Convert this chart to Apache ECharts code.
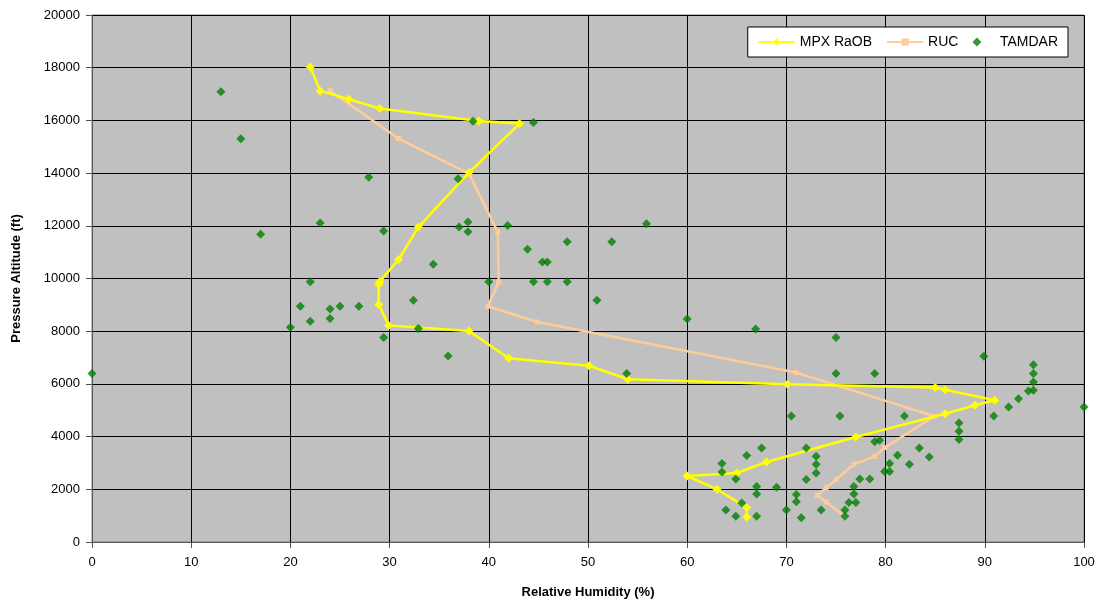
<!DOCTYPE html>
<html><head><meta charset="utf-8">
<script src="https://cdn.jsdelivr.net/npm/echarts@6/dist/echarts.min.js"></script>
<style>html,body{margin:0;padding:0;background:#fff}#c{width:1102px;height:605px}</style>
</head><body><div id="c"></div>
<script>
const xTitle = 'Relative Humidity (%)';
const yTitle = 'Pressure Altitude (ft)';
const seriesNames = ['MPX RaOB', 'RUC', 'TAMDAR'];

const raob = [[22,18030],[23,17120],[25.9,16800],[29,16450],[39,15980],[43.1,15880],[38,14020],[32.9,11950],[30.9,10720],[29,9880],[28.9,9780],[28.9,9010],[29.9,8220],[38,8010],[42,6970],[50.1,6690],[54,6175],[70.1,5985],[85,5860],[86,5780],[91,5380],[89,5190],[86,4870],[77,3985],[68,3036],[65,2620],[60,2505],[63,2000],[66,1305],[66,950]];

const ruc = [[24,17120],[30.9,15310],[38,13980],[40.9,11770],[41,9870],[39.9,8945],[44.9,8350],[71,6430],[84.9,4770],[79.9,3580],[78.9,3250],[76.8,2950],[75,2370],[74,2060],[73.1,1770],[74,1520],[75.8,1010]];

const tamdar = [[13,17090],[15,15300],[27.9,13840],[36.9,13790],[38.4,15970],[44.5,15920],
[37.9,12140],[37.9,11770],[37,11950],[41.9,12010],[55.9,12080],[47.9,11390],[52.4,11390],[43.9,11110],[45.4,10630],[45.9,10630],
[40,9880],[44.5,9880],[45.9,9880],[47.9,9880],
[50.9,9170],[60,8460],[66.9,8080],[53.9,6390],
[23,12110],[17,11680],[29.4,11800],[34.4,10540],[22,9880],[32.4,9170],[21,8950],[24,8840],[25,8950],[26.9,8950],[22,8380],[24,8480],[20,8150],[32.9,8100],[29.4,7760],[35.9,7060],[0,6390],
[75,6390],[78.9,6390],[75,7760],[89.9,7050],
[70.5,4780],[75.4,4780],[78.9,3800],[79.4,3860],[67.5,3570],[72,3570],[66,3280],[73,3250],[73,2950],[73,2620],[63.5,2975],[63.5,2660],[64.9,2390],[72,2370],[67,2110],[67,1820],[69,2080],[71,1800],[71,1530],[65.5,1480],[63.9,1210],[64.9,975],[67,975],[70,1210],[71.5,925],[73.5,1210],[75.9,1210],[75.9,975],[76.8,2110],[76.8,1820],[76.3,1500],[77,1500],[77.4,2390],[78.4,2390],[79.9,2680],[80.4,2680],[80.4,2975],[81.2,3290],
[94.9,6730],[94.9,6390],[94.9,6070],[94.9,5760],[94.4,5730],[93.4,5440],[92.4,5120],[90.9,4780],[100,5120],[81.9,4780],[87.4,4520],[87.4,4200],[87.4,3890],[83.4,3570],[84.4,3230],[82.4,2950]];

const chart = echarts.init(document.getElementById('c'), null, {renderer:'canvas'});
const labelFont = {fontFamily:'Liberation Sans, Arial, sans-serif', fontSize:13, color:'#000'};
const diamondPath = 'path://M0,-1L1,0L0,1L-1,0Z';
chart.setOption({
  animation:false,
  backgroundColor:'#fff',
  grid:{left:92, right:18, top:15, bottom:63, show:true, backgroundColor:'#C0C0C0', borderColor:'#808080', borderWidth:1},
  legend:{
    right:34, top:27, orient:'horizontal',
    backgroundColor:'#fff', borderColor:'#000', borderWidth:1,
    padding:[8,10,8,10], itemGap:14, itemWidth:36, itemHeight:9,
    textStyle:{fontFamily:'Liberation Sans, Arial, sans-serif', fontSize:14, color:'#000'},
    data:[{name:seriesNames[0]},{name:seriesNames[1]},{name:seriesNames[2], icon:diamondPath}]
  },
  xAxis:{
    type:'value', min:0, max:100, interval:10,
    name:xTitle, nameLocation:'middle', nameGap:44,
    nameTextStyle:{fontFamily:'Liberation Sans, Arial, sans-serif', fontSize:13, fontWeight:'bold', color:'#000'},
    axisLine:{show:true, onZero:false, lineStyle:{color:'#555', width:1}},
    axisTick:{show:true, length:6, lineStyle:{color:'#555'}},
    axisLabel:{margin:14, fontFamily:'Liberation Sans, Arial, sans-serif', fontSize:13, color:'#000'},
    splitLine:{show:true, lineStyle:{color:'#000', width:1}}
  },
  yAxis:{
    type:'value', min:0, max:20000, interval:2000,
    name:yTitle, nameLocation:'middle', nameGap:69, nameRotate:90,
    nameTextStyle:{fontFamily:'Liberation Sans, Arial, sans-serif', fontSize:13, fontWeight:'bold', color:'#000'},
    axisLine:{show:true, onZero:false, lineStyle:{color:'#555', width:1}},
    axisTick:{show:true, length:6, lineStyle:{color:'#555'}},
    axisLabel:Object.assign({margin:12, formatter:function(v){return String(v);}}, labelFont),
    splitLine:{show:true, lineStyle:{color:'#000', width:1}}
  },
  series:[
    {name:seriesNames[0], type:'line', data:raob, symbol:diamondPath, symbolSize:9,
     itemStyle:{color:'#FFFF00'}, lineStyle:{color:'#FFFF00', width:2.5}, z:4},
    {name:seriesNames[1], type:'line', data:ruc, symbol:'rect', symbolSize:5,
     itemStyle:{color:'#FFCC99'}, lineStyle:{color:'#FFCC99', width:2.5}, z:3},
    {name:seriesNames[2], type:'scatter', data:tamdar, symbol:diamondPath, symbolSize:9,
     itemStyle:{color:'#008000'}, z:5}
  ]
});
</script></body></html>
